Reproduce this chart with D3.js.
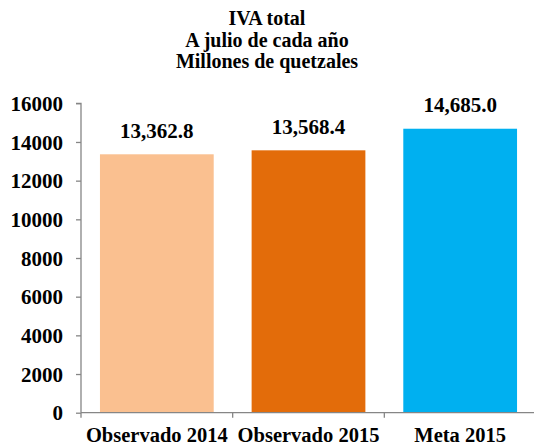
<!DOCTYPE html>
<html><head><meta charset="utf-8">
<script src="https://cdn.jsdelivr.net/npm/d3@7"></script>
<style>body{margin:0;background:#fff}svg{display:block}</style>
</head><body><div id="chart"></div>
<script>
const categories = ["Observado 2014", "Observado 2015", "Meta 2015"];
const values = [13362.8, 13568.4, 14685.0];
const colors = ["#FAC090", "#E36C0A", "#00B0F0"];
const yTicks = [0, 2000, 4000, 6000, 8000, 10000, 12000, 14000, 16000];
const titleLines = ["IVA total", "A julio de cada año", "Millones de quetzales"];

const FONT = '"Liberation Serif"';
const W = 534, H = 447;
const svg = d3.select("#chart").append("svg").attr("width", W).attr("height", H);
const x0 = 81, x1 = 536, yTop = 103.3, yBot = 412.7;
const x = d3.scaleBand().domain(categories).range([x0, x1]).paddingInner(0.25).paddingOuter(0.125);
const y = d3.scaleLinear().domain([0, 16000]).range([yBot, yTop]);
const axisColor = "#868686";

function txt(sel, size) {
  return sel.style("font-family", FONT).style("font-weight", "bold").style("font-size", size + "px").attr("fill", "#000");
}

// title
txt(svg.append("g").selectAll("text").data(titleLines).join("text")
  .attr("x", 267).attr("y", (d, i) => 25 + i * 21.5)
  .attr("text-anchor", "middle").text(d => d), 20);

// bars
svg.append("g").selectAll("rect").data(values).join("rect")
  .attr("x", (d, i) => x(categories[i])).attr("width", x.bandwidth())
  .attr("y", d => y(d)).attr("height", d => yBot - y(d))
  .attr("fill", (d, i) => colors[i]);

// value labels
const fmt = d3.format(",.1f");
txt(svg.append("g").selectAll("text").data(values).join("text")
  .attr("x", (d, i) => x(categories[i]) + x.bandwidth() / 2)
  .attr("y", d => y(d) - 16.5)
  .attr("text-anchor", "middle").text(d => fmt(d)), 21);

// y axis
const yAxis = d3.axisLeft(y).tickValues(yTicks).tickSize(5).tickPadding(13).tickFormat(d3.format("d"));
const gy = svg.append("g").attr("transform", `translate(${x0},0)`).call(yAxis);
gy.select(".domain").attr("stroke", axisColor).attr("stroke-width", 1.3).attr("d", `M-5,${yTop}H0V${yBot}`);
gy.selectAll(".tick line").attr("stroke", axisColor).attr("stroke-width", 1.3);
txt(gy.selectAll(".tick text").attr("dy", "0.34em"), 21);

// x axis
const gx = svg.append("g").attr("transform", `translate(0,${yBot})`);
gx.append("line").attr("x1", x0).attr("x2", W).attr("y1", 0).attr("y2", 0)
  .attr("stroke", axisColor).attr("stroke-width", 1.3);
const bounds = categories.map(c => x(c) - x.step() * x.paddingInner() / 2).concat([x1]);
gx.selectAll(".btick").data(bounds).join("line").attr("class", "btick")
  .attr("x1", d => d).attr("x2", d => d).attr("y1", 0).attr("y2", 5)
  .attr("stroke", axisColor).attr("stroke-width", 1.3);
txt(gx.selectAll(".clabel").data(categories).join("text").attr("class", "clabel")
  .attr("x", d => x(d) + x.bandwidth() / 2).attr("y", 29.5)
  .attr("text-anchor", "middle").text(d => d), 20.5);
</script></body></html>
